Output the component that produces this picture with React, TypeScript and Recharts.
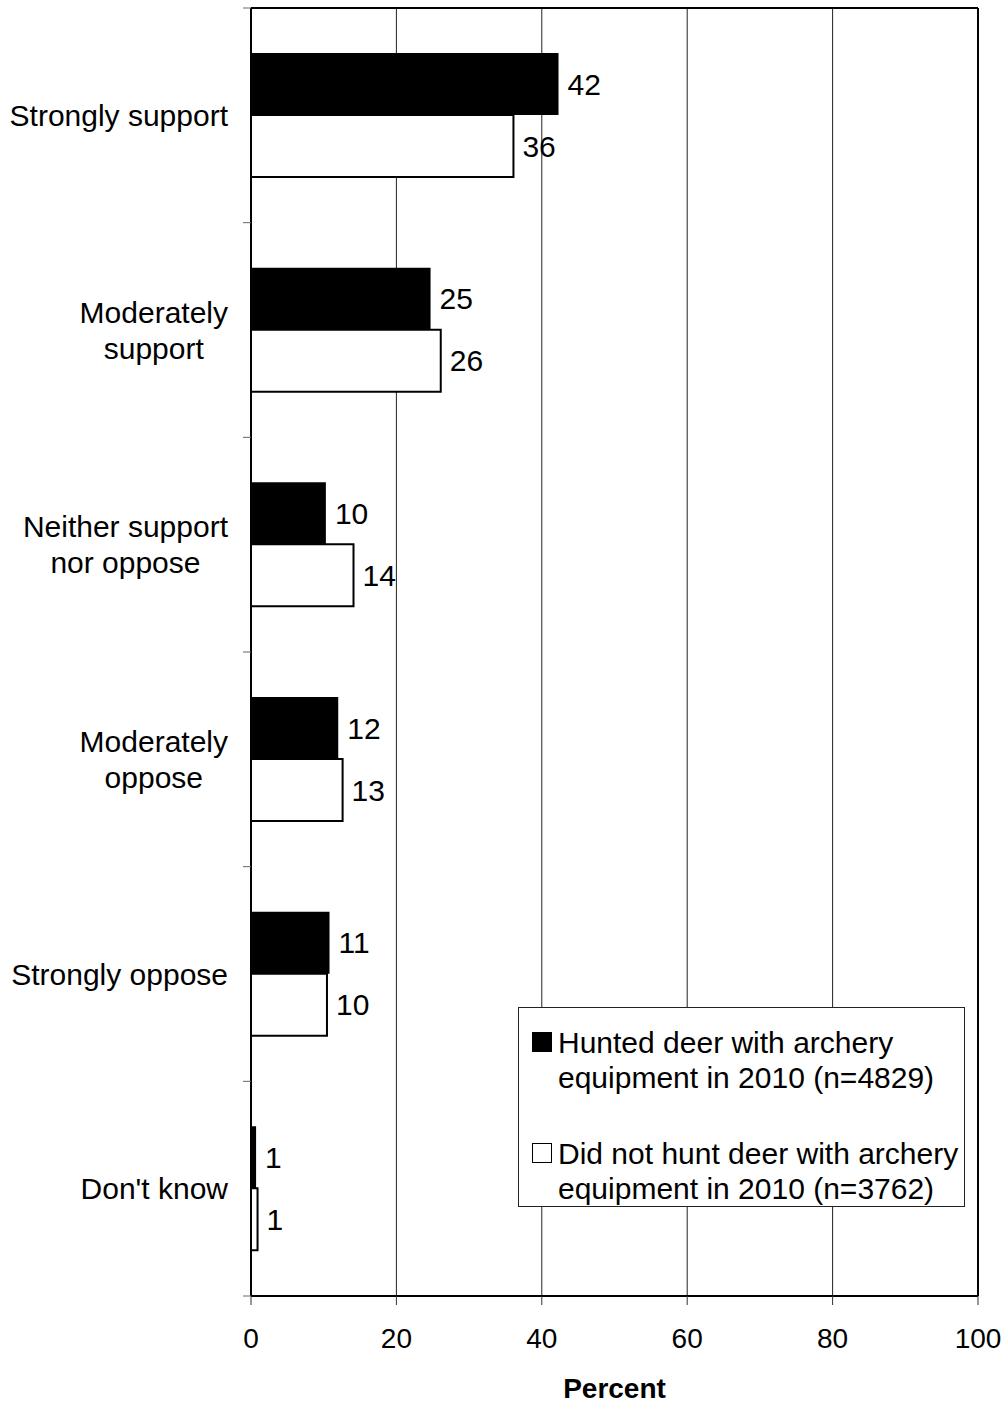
import { BarChart, Bar, XAxis, YAxis, CartesianGrid, Legend, LabelList } from 'recharts';

document.body.style.margin = '0';

const categories = [
  'Strongly support',
  'Moderately support',
  'Neither support nor oppose',
  'Moderately oppose',
  'Strongly oppose',
  "Don't know",
];
const hunted = [42.3, 24.7, 10.3, 12.0, 10.8, 0.7];
const notHunted = [36.1, 26.1, 14.1, 12.6, 10.45, 0.9];
const seriesNames = [
  'Hunted deer with archery equipment in 2010 (n=4829)',
  'Did not hunt deer with archery equipment in 2010 (n=3762)',
];
const xTicks = [0, 20, 40, 60, 80, 100];

const data = categories.map((category, i) => ({
  category,
  hunted: hunted[i],
  notHunted: notHunted[i],
}));

const FONT = '"Liberation Sans", Arial, sans-serif';
const TEXT_SIZE = 30;
const W = 1008;
const H = 1406;
const MARGIN = { top: 8, right: 30, left: 0, bottom: 0 };
const X_AXIS_H = 110;
const BAND = (H - MARGIN.top - X_AXIS_H) / categories.length;

let ctx: CanvasRenderingContext2D | null = null;
function textWidth(s: string, size: number) {
  if (!ctx) ctx = document.createElement('canvas').getContext('2d');
  if (!ctx) return s.length * size * 0.55;
  ctx.font = `${size}px ${FONT}`;
  return ctx.measureText(s).width;
}

function wrap(label: string, size: number, max: number) {
  const lines: string[] = [];
  let cur = '';
  for (const w of label.split(' ')) {
    const next = cur ? cur + ' ' + w : w;
    if (cur && textWidth(next, size) > max) {
      lines.push(cur);
      cur = w;
    } else cur = next;
  }
  if (cur) lines.push(cur);
  return lines;
}

function CategoryTick({ x, y, payload, index }: any) {
  const lines = wrap(payload.value, TEXT_SIZE, 226);
  const widest = Math.max(...lines.map((l) => textWidth(l, TEXT_SIZE)));
  const cx = x - widest / 2;
  const half = BAND / 2;
  return (
    <g>
      <line x1={x + 15} x2={x + 23} y1={y - half} y2={y - half} stroke="#666" />
      {index === categories.length - 1 && (
        <line x1={x + 15} x2={x + 23} y1={y + half} y2={y + half} stroke="#666" />
      )}
      <text x={cx} y={y} textAnchor="middle" fontSize={TEXT_SIZE} fill="#000">
        {lines.map((l, i) => (
          <tspan key={i} x={cx} y={y + (i - (lines.length - 1) / 2) * 36} dy="0.355em">
            {l}
          </tspan>
        ))}
      </text>
    </g>
  );
}

function renderLegend() {
  const swatches = ['#000', '#fff'];
  return (
    <div
      style={{
        position: 'relative',
        width: 447,
        height: 200,
        border: '1px solid #222',
        background: '#fff',
        boxSizing: 'border-box',
        fontSize: TEXT_SIZE,
        lineHeight: '35px',
        color: '#000',
        textAlign: 'left',
      }}
    >
      {seriesNames.map((name, i) => (
        <div key={name}>
          <div
            style={{
              position: 'absolute',
              left: 13,
              top: 24 + i * 111,
              width: 20,
              height: 20,
              boxSizing: 'border-box',
              border: '1px solid #000',
              background: swatches[i],
            }}
          />
          <div style={{ position: 'absolute', left: 39, top: 17 + i * 111, width: 420 }}>{name}</div>
        </div>
      ))}
    </div>
  );
}

const roundLabel = (v: any) => Math.round(Number(v));

export default function App() {
  return (
    <div style={{ fontFamily: FONT, width: W, height: H }}>
      <BarChart
        width={W}
        height={H}
        data={data}
        layout="vertical"
        margin={MARGIN}
        barSize={62}
        barGap={0}
      >
        <CartesianGrid horizontal={false} stroke="#222" strokeWidth={1} />
        <CartesianGrid
          stroke="#000"
          strokeWidth={2}
          horizontalCoordinatesGenerator={({ offset }: any) => [offset.top]}
          verticalCoordinatesGenerator={({ offset }: any) => [offset.left + offset.width]}
        />
        <XAxis
          type="number"
          domain={[0, 100]}
          ticks={xTicks}
          height={X_AXIS_H}
          axisLine={{ stroke: '#000', strokeWidth: 2 }}
          tickLine={{ stroke: '#333', strokeWidth: 1 }}
          tickSize={9}
          tickMargin={23}
          tick={{ fontSize: 28, fill: '#000' }}
          label={{
            value: 'Percent',
            position: 'insideBottom',
            offset: 8,
            fontSize: 28,
            fontWeight: 'bold',
            fill: '#000',
          }}
        />
        <YAxis
          type="category"
          dataKey="category"
          width={251}
          axisLine={{ stroke: '#000', strokeWidth: 2 }}
          tickLine={false}
          tickSize={0}
          tickMargin={23}
          interval={0}
          tick={<CategoryTick />}
        />
        <Legend
          layout="vertical"
          align="center"
          verticalAlign="middle"
          content={renderLegend}
          wrapperStyle={{ left: 518, top: 1007, width: 447, height: 200 }}
        />
        <Bar dataKey="hunted" name={seriesNames[0]} fill="#000" isAnimationActive={false}>
          <LabelList
            dataKey="hunted"
            position="right"
            offset={9}
            formatter={roundLabel}
            fontSize={TEXT_SIZE}
            fill="#000"
          />
        </Bar>
        <Bar
          dataKey="notHunted"
          name={seriesNames[1]}
          fill="#fff"
          stroke="#000"
          strokeWidth={2}
          isAnimationActive={false}
        >
          <LabelList
            dataKey="notHunted"
            position="right"
            offset={9}
            formatter={roundLabel}
            fontSize={TEXT_SIZE}
            fill="#000"
          />
        </Bar>
      </BarChart>
    </div>
  );
}
